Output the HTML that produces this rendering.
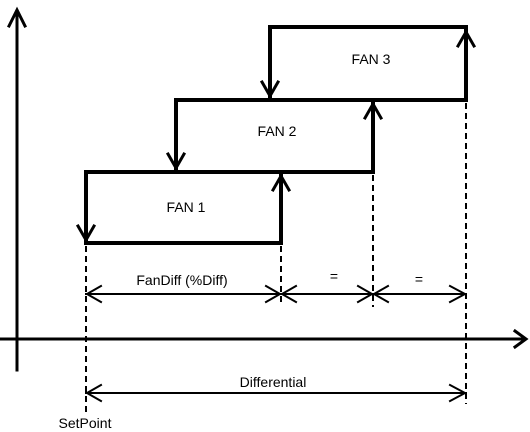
<!DOCTYPE html>
<html><head><style>
html,body{margin:0;padding:0;background:#fff;}
svg{display:block;}
text{font-family:"Liberation Sans",sans-serif;font-size:14px;fill:#000;}
</style></head><body>
<svg width="530" height="432" viewBox="0 0 530 432" xmlns="http://www.w3.org/2000/svg">
<g stroke="#000" fill="none" stroke-linecap="square">
<line x1="17" y1="12" x2="17" y2="370" stroke-width="3"/>
<polyline points="9,26 17,10 25,26" stroke-width="3"/>
<line x1="0" y1="339" x2="522" y2="339" stroke-width="3"/>
<polyline points="515,331 526,339 515,347" stroke-width="3"/>
<polyline points="86,243 86,172 176,172 176,100 270,100 270,27 466,27 466,100 373,100 373,172 281,172 281,243 86,243" stroke-width="4" stroke-linejoin="miter"/>
<polyline points="177,172 281,172" stroke-width="4"/>
<polyline points="271,100 373,100" stroke-width="4"/>
<polyline points="78,226 86,240 94,226" stroke-width="3"/>
<polyline points="168,154 176,168 184,154" stroke-width="3"/>
<polyline points="262,82 270,96 278,82" stroke-width="3"/>
<polyline points="273,190 281,176 289,190" stroke-width="3"/>
<polyline points="365,118 373,104 381,118" stroke-width="3"/>
<polyline points="458,46 466,32 474,46" stroke-width="3"/>
<g stroke-width="2" stroke-dasharray="6,4" stroke-linecap="butt">
<line x1="86" y1="246" x2="86" y2="412"/>
<line x1="281" y1="246" x2="281" y2="302"/>
<line x1="373" y1="175" x2="373" y2="307"/>
<line x1="466" y1="103" x2="466" y2="404"/>
</g>
<g stroke-width="2">
<line x1="86" y1="294" x2="466" y2="294"/>
<polyline points="101,286 87,294 101,302"/>
<polyline points="266,286 280,294 266,302"/>
<polyline points="296,286 282,294 296,302"/>
<polyline points="358,286 372,294 358,302"/>
<polyline points="388,286 374,294 388,302"/>
<polyline points="450,286 465,294 450,302"/>
<line x1="86" y1="393" x2="466" y2="393"/>
<polyline points="101,385 87,393 101,401"/>
<polyline points="450,385 465,393 450,401"/>
</g>
</g>
<text x="186" y="212" text-anchor="middle">FAN 1</text>
<text x="277" y="136" text-anchor="middle">FAN 2</text>
<text x="371" y="64" text-anchor="middle">FAN 3</text>
<text x="182" y="285" text-anchor="middle">FanDiff (%Diff)</text>
<text x="334" y="281" text-anchor="middle">=</text>
<text x="419" y="284" text-anchor="middle">=</text>
<text x="273" y="387" text-anchor="middle">Differential</text>
<text x="85" y="428" text-anchor="middle">SetPoint</text>
</svg>
</body></html>
